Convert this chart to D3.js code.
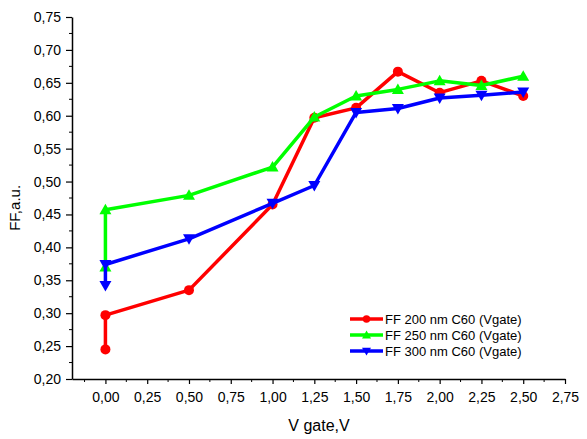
<!DOCTYPE html>
<html>
<head>
<meta charset="utf-8">
<script src="https://cdn.jsdelivr.net/npm/d3@7"></script>
<style>
  body { margin: 0; background: #fff; }
  text { font-family: "Liberation Sans", Arial, sans-serif; fill: #000; }
</style>
</head>
<body>
<div id="chart"></div>
<script>
// Data
var vgate = [0, 0, 0.5, 1.0, 1.25, 1.5, 1.75, 2.0, 2.25, 2.5];
var ff200 = [0.245, 0.297, 0.335, 0.465, 0.597, 0.612, 0.667, 0.635, 0.653, 0.630];
var ff250 = [0.370, 0.457, 0.479, 0.522, 0.598, 0.630, 0.640, 0.653, 0.646, 0.660];
var ff300 = [0.342, 0.374, 0.413, 0.467, 0.494, 0.605, 0.611, 0.627, 0.631, 0.636];
var seriesNames = ["FF 200 nm C60 (Vgate)", "FF 250 nm C60 (Vgate)", "FF 300 nm C60 (Vgate)"];
var xTicks = [0, 0.25, 0.5, 0.75, 1.0, 1.25, 1.5, 1.75, 2.0, 2.25, 2.5, 2.75];
var yTicks = [0.20, 0.25, 0.30, 0.35, 0.40, 0.45, 0.50, 0.55, 0.60, 0.65, 0.70, 0.75];

var width = 587, height = 439;
var margin = {left: 72, right: 22, top: 17, bottom: 60};

var svg = d3.select("#chart").append("svg")
    .attr("width", width)
    .attr("height", height);

var x = d3.scaleLinear().domain([-0.2, 2.75]).range([margin.left, width - margin.right]);
var y = d3.scaleLinear().domain([0.20, 0.75]).range([height - margin.bottom, margin.top]);

var fmt = function(d) { return d3.format(".2f")(d).replace(".", ","); };

// minor ticks
var xMinor = d3.range(-0.125, 2.76, 0.25);
var yMinor = d3.range(0.225, 0.75, 0.05);

var xAxis = svg.append("g")
    .attr("transform", "translate(0," + y(0.20) + ")")
    .call(d3.axisBottom(x).tickValues(xTicks).tickFormat(fmt).tickSize(5).tickPadding(8).tickSizeOuter(0));
xAxis.append("g").selectAll("line").data(xMinor).enter().append("line")
    .attr("x1", d => x(d)).attr("x2", d => x(d)).attr("y1", 0).attr("y2", 3)
    .attr("stroke", "#000");

var yAxis = svg.append("g")
    .attr("transform", "translate(" + x(-0.2) + ",0)")
    .call(d3.axisLeft(y).tickValues(yTicks).tickFormat(fmt).tickSize(6).tickPadding(5).tickSizeOuter(0));
yAxis.append("g").selectAll("line").data(yMinor).enter().append("line")
    .attr("y1", d => y(d)).attr("y2", d => y(d)).attr("x1", 0).attr("x2", -3)
    .attr("stroke", "#000");

svg.selectAll(".domain").attr("stroke", "#000").attr("stroke-width", 1.5);
svg.selectAll(".tick line").attr("stroke", "#000").attr("stroke-width", 1.2);
svg.selectAll(".tick text").style("font-size", "14px").style("font-family", "Liberation Sans, Arial, sans-serif");

// axis titles
svg.append("text")
    .attr("x", 319).attr("y", 431)
    .attr("text-anchor", "middle")
    .style("font-size", "16px")
    .text("V gate,V");

svg.append("text")
    .attr("transform", "translate(20," + y(0.46) + ") rotate(-90)")
    .attr("text-anchor", "middle")
    .style("font-size", "15px")
    .text("FF,a.u.");

var series = [
  {name: seriesNames[0], values: ff200, color: "#ff0000", symbol: "circle"},
  {name: seriesNames[1], values: ff250, color: "#00ff00", symbol: "up"},
  {name: seriesNames[2], values: ff300, color: "#0000ff", symbol: "down"}
];

var line = d3.line().x(d => x(d[0])).y(d => y(d[1]));

function marker(g, type, color) {
  if (type === "circle") {
    g.append("circle").attr("r", 5).attr("fill", color);
  } else {
    var s = 6;
    var pts = type === "up"
      ? [[-s, 4.5], [s, 4.5], [0, -6]]
      : [[-s, -4.5], [s, -4.5], [0, 6]];
    g.append("path").attr("d", "M" + pts.join("L") + "Z").attr("fill", color);
  }
}

series.forEach(function(s) {
  var pts = vgate.map((v, i) => [v, s.values[i]]);
  svg.append("path")
      .datum(pts)
      .attr("d", line)
      .attr("fill", "none")
      .attr("stroke", s.color)
      .attr("stroke-width", 3.5)
      .attr("stroke-linejoin", "round");
  pts.forEach(function(p) {
    var g = svg.append("g").attr("transform", "translate(" + x(p[0]) + "," + y(p[1]) + ")");
    marker(g, s.symbol, s.color);
  });
});

// legend
var legend = svg.append("g").attr("transform", "translate(350,319)");
series.forEach(function(s, i) {
  var g = legend.append("g").attr("transform", "translate(0," + (i * 16) + ")");
  g.append("line").attr("x1", 0).attr("x2", 33).attr("y1", 0).attr("y2", 0)
      .attr("stroke", s.color).attr("stroke-width", 3.5);
  var m = g.append("g").attr("transform", "translate(16.5,0) scale(0.75)");
  marker(m, s.symbol, s.color);
  g.append("text").attr("x", 35).attr("y", 4.5)
      .style("font-size", "13px")
      .text(s.name);
});
</script>
</body>
</html>
